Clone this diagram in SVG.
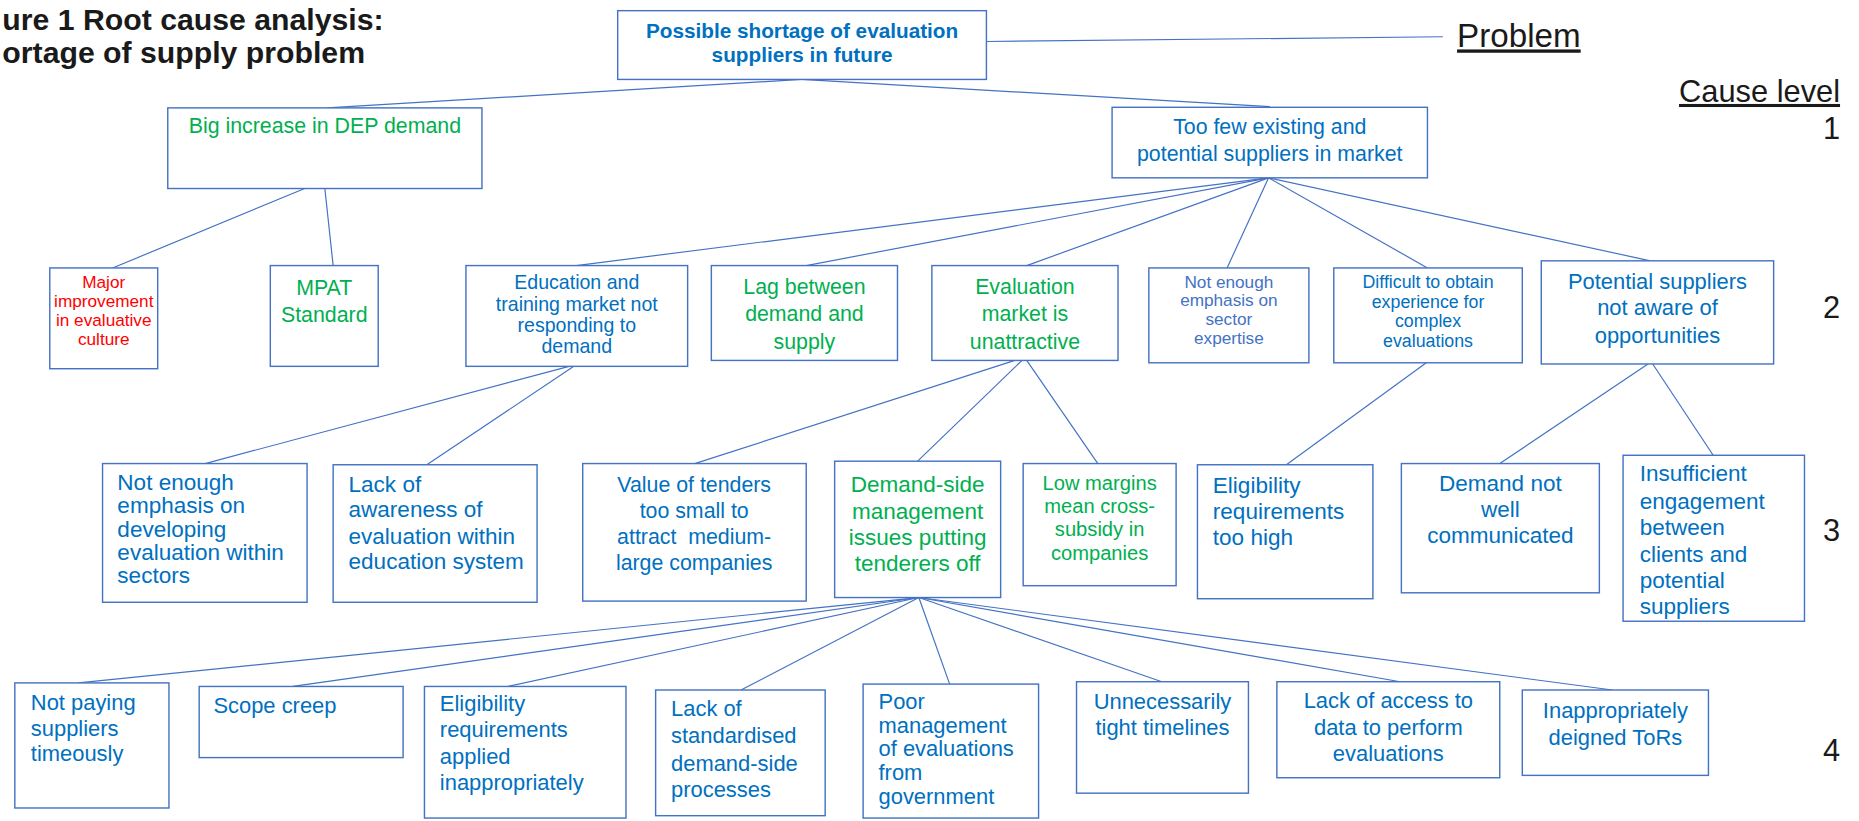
<svg xmlns="http://www.w3.org/2000/svg" width="1859" height="821" viewBox="0 0 1859 821">
<style>
.box{fill:#fff;stroke:#4472C4;stroke-width:1.2}
.ln{stroke:#4472C4;stroke-width:1;fill:none}
text{font-family:"Liberation Sans",Arial,sans-serif}
.b{fill:#0070C0}
.g{fill:#00B050}
.r{fill:#FF0000}
.p{fill:#4472C4}
.c{text-anchor:middle}
.k{fill:#1a1a1a}
</style>
<rect width="1859" height="821" fill="#fff"/>
<g transform="scale(1.18559)">
<g id="title" class="k" font-weight="bold" font-size="25.5">
<text x="2" y="25">ure 1 Root cause analysis:</text>
<text x="2" y="53">ortage of supply problem</text>
</g>
<g id="connectors">
<line class="ln" x1="832" y1="35" x2="1217" y2="31"/>
<line class="ln" x1="676" y1="67" x2="276" y2="91"/>
<line class="ln" x1="676" y1="67" x2="1071" y2="90"/>
<line class="ln" x1="257" y1="159" x2="95" y2="226"/>
<line class="ln" x1="274" y1="159" x2="281" y2="224"/>
<line class="ln" x1="1070" y1="150" x2="486" y2="224"/>
<line class="ln" x1="1070" y1="150" x2="680" y2="224"/>
<line class="ln" x1="1070" y1="150" x2="866" y2="224"/>
<line class="ln" x1="1070" y1="150" x2="1035" y2="226"/>
<line class="ln" x1="1070" y1="150" x2="1204" y2="226"/>
<line class="ln" x1="1070" y1="150" x2="1392" y2="220"/>
<line class="ln" x1="480" y1="309" x2="173" y2="391"/>
<line class="ln" x1="484" y1="309" x2="360" y2="392"/>
<line class="ln" x1="856" y1="304" x2="586" y2="391"/>
<line class="ln" x1="862" y1="304" x2="774" y2="389"/>
<line class="ln" x1="866" y1="304" x2="926" y2="391"/>
<line class="ln" x1="1203" y1="306" x2="1085" y2="392"/>
<line class="ln" x1="1390" y1="307" x2="1265" y2="391"/>
<line class="ln" x1="1394" y1="307" x2="1445" y2="384"/>
<line class="ln" x1="775" y1="504" x2="66" y2="576"/>
<line class="ln" x1="775" y1="504" x2="247" y2="579"/>
<line class="ln" x1="775" y1="504" x2="428" y2="579"/>
<line class="ln" x1="775" y1="504" x2="625" y2="582"/>
<line class="ln" x1="775" y1="504" x2="801" y2="577"/>
<line class="ln" x1="775" y1="504" x2="980" y2="575"/>
<line class="ln" x1="775" y1="504" x2="1181" y2="575"/>
<line class="ln" x1="775" y1="504" x2="1360" y2="582"/>
</g>
<g id="labels" class="k">
<text x="1229" y="40" font-size="28" text-decoration="underline">Problem</text>
<text x="1552" y="86" font-size="26" text-anchor="end" text-decoration="underline">Cause level</text>
<text x="1552" y="117" font-size="26" text-anchor="end">1</text>
<text x="1552" y="268" font-size="26" text-anchor="end">2</text>
<text x="1552" y="456" font-size="26" text-anchor="end">3</text>
<text x="1552" y="642" font-size="26" text-anchor="end">4</text>
</g>
<g id="n-root">
<rect class="box" x="521" y="9" width="311" height="58"/>
<text class="b c" font-weight="bold" font-size="17.5" x="676.5" y="32">Possible shortage of evaluation</text>
<text class="b c" font-weight="bold" font-size="17.5" x="676.5" y="52">suppliers in future</text>
</g>
<g id="n-dep">
<rect class="box" x="141.5" y="91" width="265" height="68"/>
<text class="g c" font-size="18" x="274" y="112">Big increase in DEP demand</text>
</g>
<g id="n-toofew">
<rect class="box" x="938" y="90.5" width="266" height="59.5"/>
<text class="b c" font-size="18" x="1071" y="113">Too few existing and</text>
<text class="b c" font-size="18" x="1071" y="136">potential suppliers in market</text>
</g>
<g id="n-major">
<rect class="box" x="42" y="226" width="91" height="85"/>
<text class="r c" font-size="14.5" x="87.5" y="243">Major</text>
<text class="r c" font-size="14.5" x="87.5" y="259">improvement</text>
<text class="r c" font-size="14.5" x="87.5" y="275">in evaluative</text>
<text class="r c" font-size="14.5" x="87.5" y="291">culture</text>
</g>
<g id="n-mpat">
<rect class="box" x="228" y="224" width="91" height="85"/>
<text class="g c" font-size="18" x="273.5" y="249">MPAT</text>
<text class="g c" font-size="18" x="273.5" y="272">Standard</text>
</g>
<g id="n-edu">
<rect class="box" x="393" y="224" width="187" height="85"/>
<text class="b c" font-size="16.5" x="486.5" y="244">Education and</text>
<text class="b c" font-size="16.5" x="486.5" y="262">training market not</text>
<text class="b c" font-size="16.5" x="486.5" y="280">responding to</text>
<text class="b c" font-size="16.5" x="486.5" y="298">demand</text>
</g>
<g id="n-lag">
<rect class="box" x="600" y="224" width="157" height="80"/>
<text class="g c" font-size="18" x="678.5" y="248">Lag between</text>
<text class="g c" font-size="18" x="678.5" y="271">demand and</text>
<text class="g c" font-size="18" x="678.5" y="294">supply</text>
</g>
<g id="n-evalmkt">
<rect class="box" x="786" y="224" width="157" height="80"/>
<text class="g c" font-size="18" x="864.5" y="248">Evaluation</text>
<text class="g c" font-size="18" x="864.5" y="271">market is</text>
<text class="g c" font-size="18" x="864.5" y="294">unattractive</text>
</g>
<g id="n-sector">
<rect class="box" x="969" y="226" width="135" height="80"/>
<text class="p c" font-size="14.5" x="1036.5" y="243">Not enough</text>
<text class="p c" font-size="14.5" x="1036.5" y="258.5">emphasis on</text>
<text class="p c" font-size="14.5" x="1036.5" y="274">sector</text>
<text class="p c" font-size="14.5" x="1036.5" y="290">expertise</text>
</g>
<g id="n-difficult">
<rect class="box" x="1125" y="226" width="159" height="80"/>
<text class="b c" font-size="15" x="1204.5" y="243">Difficult to obtain</text>
<text class="b c" font-size="15" x="1204.5" y="259.5">experience for</text>
<text class="b c" font-size="15" x="1204.5" y="276">complex</text>
<text class="b c" font-size="15" x="1204.5" y="292.5">evaluations</text>
</g>
<g id="n-potential">
<rect class="box" x="1300" y="220" width="196" height="87"/>
<text class="b c" font-size="18.5" x="1398" y="244">Potential suppliers</text>
<text class="b c" font-size="18.5" x="1398" y="266">not aware of</text>
<text class="b c" font-size="18.5" x="1398" y="289">opportunities</text>
</g>
<g id="n-sectors3">
<rect class="box" x="86.5" y="391" width="172.5" height="117"/>
<text class="b" font-size="19" x="99" y="413">Not enough</text>
<text class="b" font-size="19" x="99" y="433">emphasis on</text>
<text class="b" font-size="19" x="99" y="453">developing</text>
<text class="b" font-size="19" x="99" y="472">evaluation within</text>
<text class="b" font-size="19" x="99" y="492">sectors</text>
</g>
<g id="n-awareness">
<rect class="box" x="281" y="392" width="172" height="116"/>
<text class="b" font-size="19" x="294" y="415">Lack of</text>
<text class="b" font-size="19" x="294" y="436">awareness of</text>
<text class="b" font-size="19" x="294" y="459">evaluation within</text>
<text class="b" font-size="19" x="294" y="480">education system</text>
</g>
<g id="n-value">
<rect class="box" x="491.5" y="391" width="188.5" height="116"/>
<text class="b c" font-size="18" x="585.5" y="415">Value of tenders</text>
<text class="b c" font-size="18" x="585.5" y="437">too small to</text>
<text class="b c" font-size="18" x="585.5" y="459" xml:space="preserve">attract  medium-</text>
<text class="b c" font-size="18" x="585.5" y="481">large companies</text>
</g>
<g id="n-demandside">
<rect class="box" x="704" y="389" width="140" height="115"/>
<text class="g c" font-size="19" x="774" y="415">Demand-side</text>
<text class="g c" font-size="19" x="774" y="438">management</text>
<text class="g c" font-size="19" x="774" y="460">issues putting</text>
<text class="g c" font-size="19" x="774" y="482">tenderers off</text>
</g>
<g id="n-margins">
<rect class="box" x="863" y="391" width="129" height="103"/>
<text class="g c" font-size="17" x="927.5" y="413">Low margins</text>
<text class="g c" font-size="17" x="927.5" y="433">mean cross-</text>
<text class="g c" font-size="17" x="927.5" y="452">subsidy in</text>
<text class="g c" font-size="17" x="927.5" y="472">companies</text>
</g>
<g id="n-eligibility3">
<rect class="box" x="1010" y="392" width="148" height="113"/>
<text class="b" font-size="19" x="1023" y="416">Eligibility</text>
<text class="b" font-size="19" x="1023" y="438">requirements</text>
<text class="b" font-size="19" x="1023" y="460">too high</text>
</g>
<g id="n-communicated">
<rect class="box" x="1182" y="391" width="167" height="109"/>
<text class="b c" font-size="19" x="1265.5" y="414">Demand not</text>
<text class="b c" font-size="19" x="1265.5" y="436">well</text>
<text class="b c" font-size="19" x="1265.5" y="458">communicated</text>
</g>
<g id="n-engagement">
<rect class="box" x="1369" y="384" width="153" height="140"/>
<text class="b" font-size="19" x="1383" y="406">Insufficient</text>
<text class="b" font-size="19" x="1383" y="429">engagement</text>
<text class="b" font-size="19" x="1383" y="451">between</text>
<text class="b" font-size="19" x="1383" y="474">clients and</text>
<text class="b" font-size="19" x="1383" y="496">potential</text>
<text class="b" font-size="19" x="1383" y="518">suppliers</text>
</g>
<g id="n-paying">
<rect class="box" x="12.5" y="576" width="130" height="105.5"/>
<text class="b" font-size="18.5" x="26" y="599">Not paying</text>
<text class="b" font-size="18.5" x="26" y="620.5">suppliers</text>
<text class="b" font-size="18.5" x="26" y="642">timeously</text>
</g>
<g id="n-scope">
<rect class="box" x="168" y="579" width="172" height="60"/>
<text class="b" font-size="18.5" x="180" y="601">Scope creep</text>
</g>
<g id="n-eligibility4">
<rect class="box" x="358" y="579" width="170" height="111"/>
<text class="b" font-size="18.5" x="371" y="600">Eligibility</text>
<text class="b" font-size="18.5" x="371" y="622">requirements</text>
<text class="b" font-size="18.5" x="371" y="644">applied</text>
<text class="b" font-size="18.5" x="371" y="666">inappropriately</text>
</g>
<g id="n-standardised">
<rect class="box" x="553" y="582" width="143" height="106"/>
<text class="b" font-size="18.5" x="566" y="604">Lack of</text>
<text class="b" font-size="18.5" x="566" y="627">standardised</text>
<text class="b" font-size="18.5" x="566" y="650">demand-side</text>
<text class="b" font-size="18.5" x="566" y="672">processes</text>
</g>
<g id="n-poor">
<rect class="box" x="728" y="577" width="148" height="113"/>
<text class="b" font-size="18.5" x="741" y="598">Poor</text>
<text class="b" font-size="18.5" x="741" y="618">management</text>
<text class="b" font-size="18.5" x="741" y="638">of evaluations</text>
<text class="b" font-size="18.5" x="741" y="658">from</text>
<text class="b" font-size="18.5" x="741" y="678">government</text>
</g>
<g id="n-timelines">
<rect class="box" x="908" y="575" width="145" height="94"/>
<text class="b c" font-size="18.5" x="980.5" y="598">Unnecessarily</text>
<text class="b c" font-size="18.5" x="980.5" y="620">tight timelines</text>
</g>
<g id="n-data">
<rect class="box" x="1077" y="575" width="188" height="81"/>
<text class="b c" font-size="18.5" x="1171" y="597">Lack of access to</text>
<text class="b c" font-size="18.5" x="1171" y="620">data to perform</text>
<text class="b c" font-size="18.5" x="1171" y="642">evaluations</text>
</g>
<g id="n-tors">
<rect class="box" x="1284" y="582" width="157" height="72"/>
<text class="b c" font-size="18.5" x="1362.5" y="606">Inappropriately</text>
<text class="b c" font-size="18.5" x="1362.5" y="628">deigned ToRs</text>
</g>
</g>
</svg>
